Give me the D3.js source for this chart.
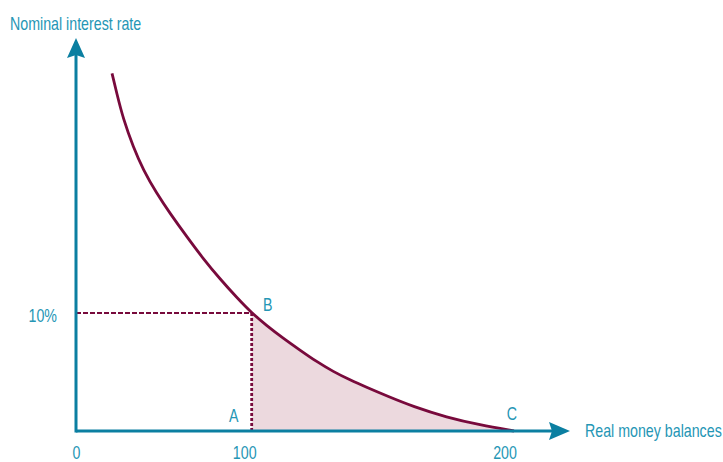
<!DOCTYPE html>
<html>
<head>
<meta charset="utf-8">
<script src="https://cdn.jsdelivr.net/npm/d3@7"></script>
<style>
  html, body { margin: 0; padding: 0; background: #fff; }
  svg { display: block; }
  text { font-family: "Liberation Sans", Arial, sans-serif; font-size: 18px; fill: #2596b5; }
</style>
</head>
<body>
<svg id="chart" width="723" height="462"></svg>
<script>
// ---- data ----
const curveX = [20.5, 23.2, 26.9, 32.6, 38.3, 45.9, 53.5, 63.0, 72.5, 82.0, 91.5, 100,
                105.7, 112.0, 118.4, 124.8, 131.1, 137.5, 143.8, 151.5, 161.6, 174.3, 187.0, 200];
const curveY = [30.31, 28.62, 26.44, 24.07, 22.12, 20.14, 18.45, 16.48, 14.58, 12.88, 11.31, 10,
                8.94, 7.86, 6.86, 5.87, 5.03, 4.32, 3.70, 2.97, 2.06, 1.16, 0.51, 0];
const xTicks = [0, 100, 200];
const xTickLabels = ["0", "100", "200"];
const yTicks = [10];
const yTickLabels = ["10%"];
const pointB = { x: 100, y: 10 };
const pointC = { x: 200, y: 0 };
const xTitle = "Real money balances";
const yTitle = "Nominal interest rate";

// ---- drawing ----
const svg = d3.select("#chart");
const axisColor = "#0b7fa1";
const curveColor = "#780a3c";
const fillColor = "#ecd9de";
const squeeze = 0.79; // condensed look

function addText(px, py, txt, anchor) {
  svg.append("text")
    .attr("transform", `translate(${px},${py}) scale(${squeeze},1)`)
    .attr("text-anchor", anchor || "start")
    .text(txt);
}

// schematic, piecewise-linear x scale
const x = d3.scaleLinear().domain([0, 100, 200]).range([76, 251.7, 514]);
const y = d3.scaleLinear().domain([0, 10]).range([431, 313]);

const pts = curveX.map((v, i) => ({ x: v, y: curveY[i] }));

// shaded area from B to C (clipped from the full curve)
svg.append("clipPath").attr("id", "clipBC")
  .append("rect")
  .attr("x", x(pointB.x)).attr("y", 0)
  .attr("width", x(pointC.x) - x(pointB.x) + 5).attr("height", y(0));
svg.append("path")
  .datum(pts)
  .attr("fill", fillColor)
  .attr("clip-path", "url(#clipBC)")
  .attr("d", d3.area().x(d => x(d.x)).y0(y(0)).y1(d => y(d.y)).curve(d3.curveBasis));

// dashed guides
svg.append("line")
  .attr("x1", x(0)).attr("x2", x(pointB.x))
  .attr("y1", y(pointB.y)).attr("y2", y(pointB.y))
  .attr("stroke", curveColor).attr("stroke-width", 2)
  .attr("stroke-dasharray", "5,2");
svg.append("line")
  .attr("x1", x(pointB.x)).attr("x2", x(pointB.x))
  .attr("y1", y(pointB.y)).attr("y2", y(0))
  .attr("stroke", curveColor).attr("stroke-width", 2.8)
  .attr("stroke-dasharray", "3,2");

// demand curve
svg.append("path")
  .datum(pts)
  .attr("fill", "none")
  .attr("stroke", curveColor)
  .attr("stroke-width", 2.8)
  .attr("d", d3.line().x(d => x(d.x)).y(d => y(d.y)).curve(d3.curveBasis));

// axes
const x0 = x(0), y0 = y(0);
svg.append("line").attr("x1", x0).attr("x2", 553).attr("y1", y0).attr("y2", y0)
  .attr("stroke", axisColor).attr("stroke-width", 3);
svg.append("line").attr("x1", x0).attr("x2", x0).attr("y1", y0 + 1.5).attr("y2", 55)
  .attr("stroke", axisColor).attr("stroke-width", 3);
// arrowheads
svg.append("path").attr("fill", axisColor)
  .attr("d", `M570,${y0} L549,${y0 - 9} L552,${y0} L549,${y0 + 9} Z`);
svg.append("path").attr("fill", axisColor)
  .attr("d", `M${x0},38 L${x0 - 9},58 L${x0},55 L${x0 + 9},58 Z`);

// tick labels
xTicks.forEach((d, i) => {
  const off = d === 0 ? -0.5 : (d === 100 ? 7 : 9);
  addText(x(d) - off, 459, xTickLabels[i], "middle");
});
yTicks.forEach((d, i) => addText(57, y(d) + 9, yTickLabels[i], "end"));

// point labels
addText(x(pointB.x) - 18, 422, "A", "middle");
addText(x(pointB.x) + 16, 311, "B", "middle");
addText(x(pointC.x) - 2, 420, "C", "middle");

// axis titles
addText(585, 437, xTitle);
addText(10, 30, yTitle);
</script>
</body>
</html>
